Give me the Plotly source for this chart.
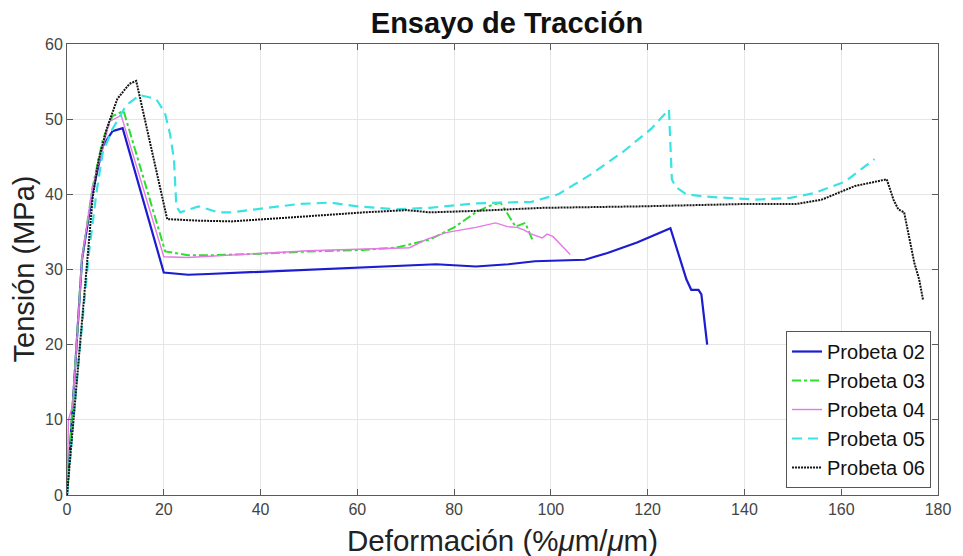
import plotly.graph_objects as go

# Tensile test curves: strain (% um/um) vs. stress (MPa) for each specimen
p02_x = [0, 3.1, 5.3, 7.4, 9.4, 11.5, 20, 22, 25, 29.2, 40, 54.4, 65, 76.3, 84.5, 91.2,
         96.7, 107, 111.7, 117.8, 124.7, 128, 129, 130.5, 131.1, 132.3]
p02_y = [0, 31.3, 40.3, 46.4, 48.4, 48.8, 29.6, 29.5, 29.3, 29.4, 29.7, 30.1, 30.3, 30.7,
         30.4, 30.7, 31.1, 31.3, 32.2, 33.6, 35.5, 28.7, 27.3, 27.3, 26.7, 20.0]

p03_x = [0, 3.1, 5.3, 7.4, 9.4, 11.7, 20.3, 22, 25, 30, 40, 50, 61, 68, 75, 80, 84.5,
         87, 89.6, 92.7, 94.7, 96.4]
p03_y = [0, 31.5, 41.0, 47.3, 50.4, 51.1, 32.4, 32.2, 31.9, 31.9, 32.1, 32.4, 32.6, 32.9,
         34.0, 35.6, 37.6, 38.4, 38.9, 35.7, 36.2, 33.6]

p04_x = [0, 0.3, 1.2, 3.1, 5.3, 8.8, 11.2, 20, 25, 30, 40, 50, 60, 70.8, 74.3, 78.3,
         84.5, 88.6, 91, 93, 94.3, 96, 98.2, 99.2, 100.4, 104]
p04_y = [0, 10.0, 12.0, 31.5, 41.0, 49.7, 50.5, 31.7, 31.6, 31.8, 32.1, 32.5, 32.7, 32.9,
         34.0, 34.9, 35.6, 36.2, 35.7, 35.6, 35.3, 34.7, 34.2, 34.7, 34.4, 32.0]

p05_x = [0, 2, 4.5, 6.1, 7.4, 9.4, 12.2, 15, 18.4, 20.2, 21.3, 22.1, 22.6, 23.4, 27.2,
         31.3, 34, 40.9, 47.7, 54.4, 60, 68, 74.9, 84.5, 90, 96, 101.5, 108.4, 115,
         120.7, 124.4, 125, 125.8, 128, 132, 142.4, 149.3, 154.6, 160.8, 166.9]
p05_y = [0, 15.0, 32.0, 40.3, 45.6, 48.7, 51.8, 53.2, 52.7, 50.9, 48.0, 44.7, 38.4, 37.6,
         38.4, 37.6, 37.6, 38.2, 38.7, 38.9, 38.4, 38.0, 38.2, 38.8, 38.9, 39.0, 40.0,
         42.7, 45.7, 48.7, 51.3, 42.0, 41.0, 40.0, 39.7, 39.3, 39.5, 40.2, 41.7, 44.7]

p06_x = [0, 4.3, 5.3, 6.5, 8.2, 10.4, 12.9, 14.3, 20.7, 27.2, 34, 45.6, 54.4, 61.4, 70.2,
         75, 84.5, 98.2, 118.6, 139, 150.5, 156, 162.8, 169.4, 170.8, 171.8, 173, 173.9,
         175.1, 176.1, 176.9]
p06_y = [0, 32.0, 39.5, 44.5, 48.7, 52.7, 54.7, 55.1, 36.7, 36.5, 36.4, 36.9, 37.3, 37.6,
         37.9, 37.6, 37.8, 38.2, 38.4, 38.7, 38.7, 39.3, 41.1, 42.0, 39.3, 38.0, 37.6,
         34.9, 30.9, 28.7, 26.0]

names = ["Probeta 02", "Probeta 03", "Probeta 04", "Probeta 05", "Probeta 06"]

FONT = "Liberation Sans, Arial, Helvetica, sans-serif"

series = [
    (p02_x, p02_y, dict(color="#1c1cd0", width=2.2, dash="solid")),
    (p03_x, p03_y, dict(color="#2ede2e", width=2, dash="dashdot")),
    (p04_x, p04_y, dict(color="#e677e6", width=1.4, dash="solid")),
    (p05_x, p05_y, dict(color="#3ae3e3", width=2.2, dash="10px,6px")),
    (p06_x, p06_y, dict(color="#141414", width=2, dash="2px,1px")),
]

fig = go.Figure()
for name, (xs, ys, line) in zip(names, series):
    fig.add_trace(go.Scatter(x=xs, y=ys, mode="lines", name=name, line=line))

axis_common = dict(
    showline=True, linecolor="#5a5a5a", linewidth=1, mirror="ticks",
    ticks="inside", ticklen=6, tickcolor="#5a5a5a",
    showgrid=True, gridcolor="#e6e6e6", gridwidth=1, zeroline=False,
    tickfont=dict(family=FONT, size=16, color="#444444"),
)

fig.update_layout(
    width=963, height=556,
    margin=dict(l=67, r=16, t=44, b=61),
    paper_bgcolor="white", plot_bgcolor="white",
    font=dict(family=FONT, color="#111111"),
    title=dict(text="<b>Ensayo de Tracción</b>", x=0.5265, xanchor="center",
               y=1 - 23 / 556, yref="container", yanchor="middle",
               font=dict(family=FONT, size=29, color="#111111")),
    xaxis=dict(range=[0, 180], dtick=20, **axis_common),
    yaxis=dict(range=[0, 60], dtick=10, **axis_common),
    legend=dict(x=0.992, xanchor="right", y=0.0155, yanchor="bottom",
                bgcolor="white", bordercolor="#555555", borderwidth=1,
                font=dict(family=FONT, size=20, color="#111111"),
                tracegroupgap=0, itemwidth=30),
    showlegend=True,
)

fig.add_annotation(text="Deformación (%<i>μ</i>m/<i>μ</i>m)", xref="paper", yref="paper",
                   x=0.5, y=0, yanchor="middle", yshift=-45, showarrow=False,
                   font=dict(family=FONT, size=29.5, color="#222222"))
fig.add_annotation(text="Tensión (MPa)", xref="paper", yref="paper",
                   x=0, y=0.5, xanchor="center", xshift=-44, textangle=-90,
                   showarrow=False, font=dict(family=FONT, size=29, color="#222222"))

fig.write_html("out.html")
